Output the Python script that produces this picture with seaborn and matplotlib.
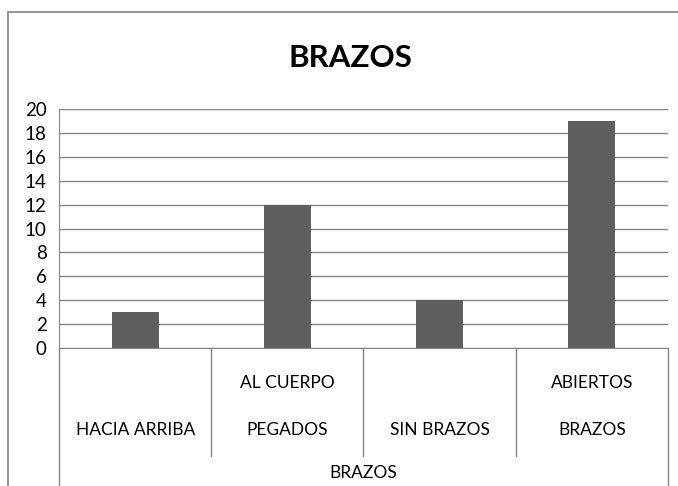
import matplotlib
matplotlib.use('Agg')
import matplotlib.pyplot as plt
import matplotlib.lines as mlines
import pandas as pd
import seaborn as sns

categorias = ['HACIA ARRIBA', 'PEGADOS AL CUERPO', 'SIN BRAZOS', 'BRAZOS ABIERTOS']
linea_sup = ['', 'AL CUERPO', '', 'ABIERTOS']
linea_inf = ['HACIA ARRIBA', 'PEGADOS', 'SIN BRAZOS', 'BRAZOS']
valores = [3, 12, 4, 19]
titulo = 'BRAZOS'
grupo = 'BRAZOS'

sns.set_style('white')
plt.rcParams['font.family'] = ['Lato', 'DejaVu Sans']
plt.rcParams['text.color'] = 'black'
plt.rcParams['ytick.color'] = 'black'

df = pd.DataFrame({'cat': categorias, 'val': valores})

fig = plt.figure(figsize=(6.78, 4.86), dpi=100)
ax = fig.add_axes([59/678, 138/486, 609/678, 239/486])

sns.barplot(data=df, x='cat', y='val', color='#5f5f5f', width=0.31,
            saturation=1, linewidth=0, ax=ax, zorder=3)

ax.set_ylim(0, 20)
ax.set_xlim(-0.5, 3.5)
ax.set_yticks(range(0, 21, 2))
ax.yaxis.grid(True, color='#868686', linewidth=1.0, zorder=0)
ax.tick_params(axis='y', labelsize=13.5, length=0, pad=9)
ax.set_xticks([])
ax.set_xlabel('')
ax.set_ylabel('')
for s in ['top', 'right']:
    ax.spines[s].set_visible(False)
ax.spines['left'].set_color('#868686')
ax.spines['bottom'].set_color('#868686')

# separadores de categorias
tr = ax.get_xaxis_transform()
for b in [0.5, 1.5, 2.5]:
    ax.plot([b, b], [0, -0.452], transform=tr, color='#868686', lw=1, clip_on=False)
for b in [-0.5, 3.5]:
    ax.plot([b, b], [0, -0.6], transform=tr, color='#868686', lw=1, clip_on=False)

for i in range(len(categorias)):
    ax.text(i, -0.148, linea_sup[i], transform=tr, ha='center', va='center', fontsize=12.5)
    ax.text(i, -0.345, linea_inf[i], transform=tr, ha='center', va='center', fontsize=12.5)
ax.text(1.5, -0.525, grupo, transform=tr, ha='center', va='center', fontsize=12.5)

fig.text(350/678, 1 - 58/486, titulo, ha='center', va='center',
         fontsize=22.5, fontweight='bold')

# borde del grafico (solo arriba e izquierda visibles)
y_top = 1 - 12/486
x_izq = 8/678
fig.lines.append(mlines.Line2D([x_izq, 1.0], [y_top, y_top], transform=fig.transFigure,
                               color='#8c8c8c', lw=1.3))
fig.lines.append(mlines.Line2D([x_izq, x_izq], [0, y_top], transform=fig.transFigure,
                               color='#8c8c8c', lw=1.3))

fig.savefig('out.png', dpi=100)
